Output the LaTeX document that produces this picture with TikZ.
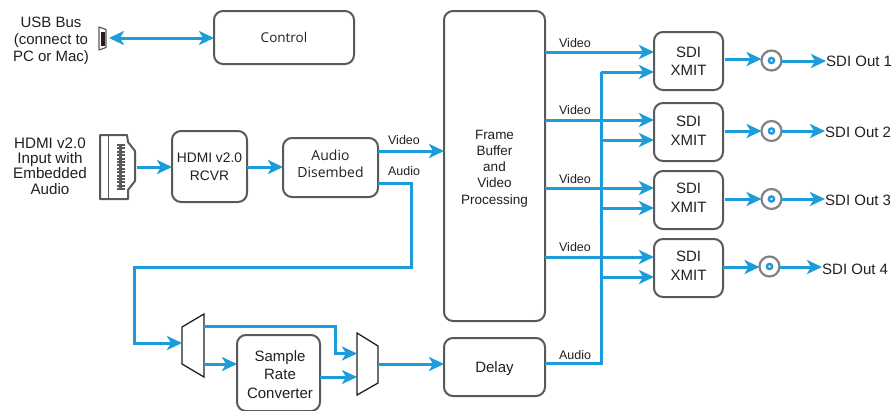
\documentclass[tikz,border=0pt]{standalone}
\usepackage{fontspec}
\setmainfont{Liberation Sans}
\newfontfamily\humfont{Open Sans}
\usetikzlibrary{arrows.meta,calc}
\definecolor{wire}{HTML}{1C9CD8}
\definecolor{boxline}{HTML}{58595B}
\definecolor{ink}{HTML}{231F20}
\newcommand{\lift}[2]{\raisebox{#1}[\height][\depth]{\begin{tabular}{@{}c@{}}#2\end{tabular}}}
\tikzset{
  block/.style={draw=boxline,line width=2pt,rounded corners=9pt,fill=white,align=center,inner sep=0pt,outer sep=0pt,text=ink,font=\fontsize{15}{17.5}\selectfont},
  link/.style={draw=wire,line width=3pt,-{Stealth[length=15pt,width=14pt,inset=4pt]}},
  both/.style={draw=wire,line width=3pt,{Stealth[length=15pt,width=14pt,inset=4pt]}-{Stealth[length=15pt,width=14pt,inset=4pt]}},
  plain/.style={draw=wire,line width=3pt},
  tag/.style={text=ink,inner sep=0pt,font=\fontsize{12.5}{14}\selectfont},
  caption/.style={text=ink,inner sep=0pt,align=center,font=\fontsize{15}{17}\selectfont},
  muxbox/.style={inner sep=0pt,outer sep=0pt},
  muxline/.style={draw=ink,line width=1.3pt,fill=white,line join=miter},
  bnc/.style={circle,draw=boxline!75,line width=2.2pt,minimum size=20pt,inner sep=0pt,outer sep=0pt},
  bncin/.style={draw=wire,line width=2.4pt},
  xmit/.style={block,minimum width=69pt,minimum height=58pt,font=\fontsize{15}{18}\selectfont},
}
\begin{document}
\begin{tikzpicture}[x=1pt,y=-1pt]
\useasboundingbox (0,0) rectangle (892,410);
% blocks
\node[block,minimum width=140pt,minimum height=53pt,font=\humfont\fontsize{13.5}{16}\selectfont] (ctrl) at (284,37.5) {Control};
\node[block,minimum width=75pt,minimum height=71pt,font=\fontsize{13.8}{17.5}\selectfont] (rcvr) at (209.5,166.5) {\lift{-1.5pt}{HDMI v2.0\\[1pt]RCVR}};
\node[block,minimum width=95pt,minimum height=59pt,font=\humfont\fontsize{14}{17}\selectfont] (dis) at (330.5,167.5) {\lift{1.5pt}{Audio\\Disembed}};
\node[block,minimum width=101pt,minimum height=310pt,font=\fontsize{13.5}{16.2}\selectfont] (fb) at (494.5,166) {\lift{-2.5pt}{Frame\\Buffer\\and\\Video\\Processing}};
\node[block,minimum width=101pt,minimum height=58pt] (delay) at (494.5,367) {\lift{-2pt}{Delay}};
\node[block,minimum width=83pt,minimum height=76pt,font=\fontsize{15}{18}\selectfont] (src) at (278.5,373) {\hspace*{3pt}\lift{-3.5pt}{Sample\\Rate\\[.5pt]Converter}};
\node[xmit] (x1) at (688.5,61) {SDI\\XMIT};
\node[xmit] (x2) at (688.5,132) {\lift{-.5pt}{SDI\\[.5pt]XMIT}};
\node[xmit] (x3) at (688.5,200) {\lift{.5pt}{SDI\\[.5pt]XMIT}};
\node[xmit] (x4) at (688.5,268) {\lift{.5pt}{SDI\\[.5pt]XMIT}};
% muxes
\node[muxbox,minimum width=22pt,minimum height=63pt] (m1) at (193,345.5) {};
\draw[muxline] (m1.north east) -- (m1.south east) -- (m1.west |- 0,364) -- (m1.west |- 0,327) -- cycle;
\node[muxbox,minimum width=21pt,minimum height=62pt] (m2) at (367.5,364) {};
\draw[muxline] (m2.north west) -- (m2.south west) -- (m2.east |- 0,383) -- (m2.east |- 0,346) -- cycle;
% BNC connectors
\node[bnc] (b1) at (771.5,60.5) {};
\node[bnc] (b2) at (771.5,131) {};
\node[bnc] (b3) at (771.5,199) {};
\node[bnc] (b4) at (769.5,266.5) {};
\foreach \n in {b1,b2,b3,b4} \draw[bncin] (\n) circle (2.6pt);
% USB icon
\node[inner sep=0pt,outer sep=0pt,minimum width=8pt,minimum height=23pt] (usb) at (102.5,38.5) {};
\draw[boxline,line width=1.2pt,line join=round] (99,27) -- (106,29.5) -- (106,47.5) -- (99,50) -- cycle;
\fill[ink] (101,31.5) rectangle (104.8,45.5);
% HDMI icon
\node[inner sep=0pt,outer sep=0pt,minimum width=36pt,minimum height=64pt] (hdmi) at (117.5,167) {};
\draw[boxline,line width=2pt,line join=round] (100,135) -- (127,135) -- (128,142) -- (135,151) -- (135,181) -- (128,190) -- (128,199) -- (100,199) -- cycle;
\draw[boxline,line width=1.8pt] (108.5,135) -- (108.5,199);
\draw[boxline,line width=3.5pt] (120.5,144) -- (120.5,190);
\draw[boxline,line width=8pt,dash pattern=on 2pt off 1.4pt] (121,144) -- (121,190);
% connectors
\draw[both] (usb.east |- 0,38) ++(2.5,0) -- (ctrl.west |- 0,38);
\draw[link] (hdmi.east |- 0,167) ++(1,0) -- (rcvr.west |- 0,167);
\draw[link] (rcvr.east |- 0,167) -- (dis.west |- 0,167);
\draw[link] (dis.east |- 0,151) -- (fb.west |- 0,151);
\draw[link] (dis.east |- 0,183) -- (411,183) -- (411,267) -- (134,267) -- (134,343) -- (m1.west |- 0,343);
\draw[link] (m1.north east |- 0,326) -- (335,326) -- (335,353.5) -- (m2.west |- 0,353.5);
\draw[link] (m1.east |- 0,364) -- (src.west |- 0,364);
\draw[link] (src.east |- 0,377) -- (m2.west |- 0,377);
\draw[link] (m2.east |- 0,364) -- (delay.west |- 0,364);
% video outputs
\draw[link] (fb.east |- 0,52) -- (x1.west |- 0,52);
\draw[link] (fb.east |- 0,120) -- (x2.west |- 0,120);
\draw[link] (fb.east |- 0,188) -- (x3.west |- 0,188);
\draw[link] (fb.east |- 0,257) -- (x4.west |- 0,257);
% audio bus
\draw[plain,line join=miter] (delay.east |- 0,363) -- (601,363) -- (601,72);
\draw[link] (601,72) -- (x1.west |- 0,72);
\draw[link] (601,140) -- (x2.west |- 0,140);
\draw[link] (601,208) -- (x3.west |- 0,208);
\draw[link] (601,277) -- (x4.west |- 0,277);
% outputs
\coordinate (o1) at (826,61);
\coordinate (o2) at (825,131);
\coordinate (o3) at (825,199);
\coordinate (o4) at (822,267);
\draw[link] (x1.east |- 0,59) ++(2,0) -- (b1.west |- 0,59);
\draw[link] (x2.east |- 0,131) ++(2,0) -- (b2.west |- 0,131);
\draw[link] (x3.east |- 0,199) ++(2,0) -- (b3.west |- 0,199);
\draw[link] (x4.east |- 0,267) -- (b4.west |- 0,267);
\draw[link] (b1.east |- 0,61) -- (o1);
\draw[link] (b2.east |- 0,131) -- (o2);
\draw[link] (b3.east |- 0,199) -- (o3);
\draw[link] (b4.east |- 0,267) -- (o4);
% captions
\node[caption] (usbt) at (51,40.5) {USB Bus\\(connect to\\PC or Mac)};
\node[caption,font=\fontsize{15.2}{15.4}\selectfont] (hdmit) at (50,166) {HDMI v2.0\\Input with\\Embedded\\Audio};
\node[caption,anchor=west] (t1) at (826,61) {SDI Out 1};
\node[caption,anchor=west] (t2) at (825,132) {SDI Out 2};
\node[caption,anchor=west] (t3) at (825,200) {SDI Out 3};
\node[caption,anchor=west] (t4) at (822,269) {SDI Out 4};
% tags
\node[tag] (v0) at (404,140) {Video};
\node[tag] (a0) at (404,171) {Audio};
\node[tag] (v1) at (575,43) {Video};
\node[tag] (v2) at (575,110) {Video};
\node[tag] (v3) at (575,179.5) {Video};
\node[tag] (v4) at (575,247.5) {Video};
\node[tag] (a1) at (575,355) {Audio};
\end{tikzpicture}
\end{document}
